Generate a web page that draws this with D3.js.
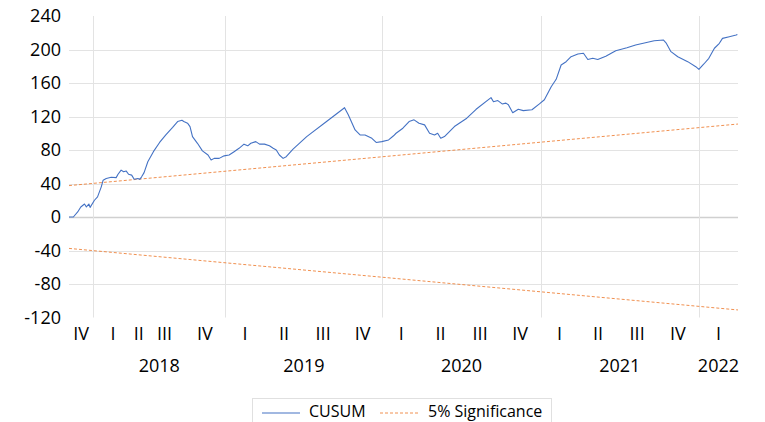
<!DOCTYPE html>
<html>
<head>
<meta charset="utf-8">
<script src="https://cdn.jsdelivr.net/npm/d3@7"></script>
<style>
  body { margin: 0; background: #fff; }
  text { font-family: "Open Sans", sans-serif; fill: #000; }
</style>
</head>
<body>
<svg id="chart" width="765" height="422"></svg>
<script>
// quarter groups on the category axis (number of daily observations in each)
var quarterLabels = ["IV", "I", "II", "III", "IV", "I", "II", "III", "IV",
                     "I", "II", "III", "IV", "I", "II", "III", "IV", "I"];
var quarterYears = [2017, 2018, 2018, 2018, 2018, 2019, 2019, 2019, 2019,
                    2020, 2020, 2020, 2020, 2021, 2021, 2021, 2021, 2022];
var quarterObs = [39, 64, 19, 64, 66, 63, 63, 63, 64, 61, 65, 63, 66, 61, 63, 63, 68, 63];
var yearLabels = [2018, 2019, 2020, 2021, 2022];

var yTicks = [-120, -80, -40, 0, 40, 80, 120, 160, 200, 240];

var cusumObs = [0, 7, 14, 19, 25, 28, 32, 34, 41, 46, 52, 55, 60, 68, 76, 79, 84, 88, 92, 96,
  101, 105, 111, 114, 117, 121, 127, 136, 146, 156, 167, 175, 182, 185, 191, 195, 199, 207,
  215, 224, 229, 234, 242, 250, 258, 266, 274, 282, 288, 293, 301, 307, 315, 323, 329, 334,
  339, 345, 350, 361, 383, 415, 444, 450, 461, 469, 477, 488, 495, 504, 515, 523, 527, 538,
  548, 556, 564, 573, 581, 589, 594, 599, 605, 621, 641, 656, 680, 684, 691, 698, 704, 708,
  715, 724, 732, 746, 758, 766, 777, 785, 793, 801, 809, 820, 829, 836, 844, 852, 865, 881,
  899, 913, 943, 958, 962, 970, 981, 997, 1010, 1015, 1023, 1031, 1040, 1048, 1053, 1064,
  1075, 1077];
var cusumValues = [0, 0, 6, 12, 15.5, 12, 15.5, 11.5, 20, 24, 36, 44, 46, 47.4, 47, 51, 56, 54,
  55, 51, 50, 45, 46, 45, 48, 53, 66, 78, 89, 98, 107, 114, 115.5, 114, 112, 108, 96, 88, 79,
  74, 68, 70, 70, 73, 74, 78, 82, 87, 85, 88, 90, 87, 87, 85, 82, 80, 74, 70, 72, 81, 96, 114,
  130.5, 122, 104, 98, 98, 94, 89, 90, 92, 97, 100, 106, 114, 116, 112, 110, 100, 98, 100, 94,
  96, 108, 118, 128.6, 142.5, 137.6, 139, 135, 136, 134, 124.5, 128.6, 127, 128, 135, 140,
  155.6, 164.4, 181.5, 185.4, 191.4, 194.6, 195.5, 188, 189.5, 188, 192, 198.6, 202, 205.4,
  210.5, 211.3, 208, 197.4, 191.4, 185.5, 179.5, 176.3, 182.7, 189.5, 201.5, 207.4, 213.3,
  215.3, 217.3, 218];

// 5% significance bounds at first and last observation
var upperBound = [37.5, 111];
var lowerBound = [-37.5, -111];

var totalObs = d3.sum(quarterObs);

var svg = d3.select("#chart");

var x = d3.scaleLinear().domain([0, totalObs]).range([69, 738]);
var y = d3.scaleLinear().domain([-120, 240]).range([317.5, 16]);

// quarter groups with start / end observation
var start = 0;
var quarters = quarterLabels.map(function(q, i) {
  var g = {label: q, year: quarterYears[i], from: start, to: start + quarterObs[i]};
  start += quarterObs[i];
  return g;
});

var years = yearLabels.map(function(yr) {
  var qs = quarters.filter(function(q) { return q.year === yr; });
  return {year: yr, from: qs[0].from, to: qs[qs.length - 1].to};
});

// horizontal gridlines
svg.append("g")
  .selectAll("line")
  .data(yTicks.filter(function(d) { return d > -120 && d < 240; }))
  .enter().append("line")
    .attr("x1", x(0))
    .attr("x2", x(totalObs))
    .attr("y1", function(d) { return Math.round(y(d)) + 0.5; })
    .attr("y2", function(d) { return Math.round(y(d)) + 0.5; })
    .attr("stroke", function(d) { return d === 0 ? "#d0d0d0" : "#e3e3e3"; })
    .attr("stroke-width", function(d) { return d === 0 ? 1.5 : 1; });

// vertical gridlines at year boundaries
svg.append("g")
  .selectAll("line")
  .data(years)
  .enter().append("line")
    .attr("x1", function(d) { return Math.round(x(d.from)) + 0.5; })
    .attr("x2", function(d) { return Math.round(x(d.from)) + 0.5; })
    .attr("y1", y(240))
    .attr("y2", y(-120))
    .attr("stroke", "#e3e3e3");

// y tick labels
svg.append("g")
  .selectAll("text")
  .data(yTicks)
  .enter().append("text")
    .attr("x", 61)
    .attr("y", function(d) { return y(d); })
    .attr("dy", "0.36em")
    .attr("text-anchor", "end")
    .style("font-size", "18px")
    .text(function(d) { return d; });

// quarter labels
svg.append("g")
  .selectAll("text")
  .data(quarters)
  .enter().append("text")
    .attr("x", function(d) { return (x(d.from) + x(d.to)) / 2; })
    .attr("y", 340)
    .attr("text-anchor", "middle")
    .style("font-size", "18px")
    .text(function(d) { return d.label; });

// year labels
svg.append("g")
  .selectAll("text")
  .data(years)
  .enter().append("text")
    .attr("x", function(d) { return (x(d.from) + x(d.to)) / 2; })
    .attr("y", 372)
    .attr("text-anchor", "middle")
    .style("font-size", "18px")
    .text(function(d) { return d.year; });

// significance bounds
var boundLine = d3.line()
  .x(function(d, i) { return x(i === 0 ? 0 : totalObs); })
  .y(function(d) { return y(d); });

svg.append("g")
  .selectAll("path")
  .data([upperBound, lowerBound])
  .enter().append("path")
    .attr("d", boundLine)
    .attr("fill", "none")
    .attr("stroke", "#ED7D31")
    .attr("stroke-opacity", 0.85)
    .attr("stroke-width", 1)
    .attr("stroke-dasharray", "3,2");

// CUSUM line
var cusumLine = d3.line()
  .x(function(d, i) { return x(cusumObs[i]); })
  .y(function(d) { return y(d); });

svg.append("path")
  .datum(cusumValues)
  .attr("d", cusumLine)
  .attr("fill", "none")
  .attr("stroke", "#4472C4")
  .attr("stroke-width", 1.1)
  .attr("stroke-linejoin", "round");

// legend
var legend = svg.append("g");

legend.append("rect")
  .attr("x", 252.5)
  .attr("y", 398.5)
  .attr("width", 299)
  .attr("height", 30)
  .attr("fill", "#fff")
  .attr("stroke", "#e0e0e0");

legend.append("line")
  .attr("x1", 262).attr("x2", 300)
  .attr("y1", 413).attr("y2", 413)
  .attr("stroke", "#4472C4")
  .attr("stroke-width", 1.1);

legend.append("text")
  .attr("x", 309)
  .attr("y", 417)
  .style("font-size", "16px")
  .text("CUSUM");

legend.append("line")
  .attr("x1", 380).attr("x2", 418)
  .attr("y1", 413).attr("y2", 413)
  .attr("stroke", "#ED7D31")
  .attr("stroke-opacity", 0.85)
  .attr("stroke-dasharray", "3,2");

legend.append("text")
  .attr("x", 428)
  .attr("y", 417)
  .style("font-size", "16px")
  .text("5% Significance");
</script>
</body>
</html>
